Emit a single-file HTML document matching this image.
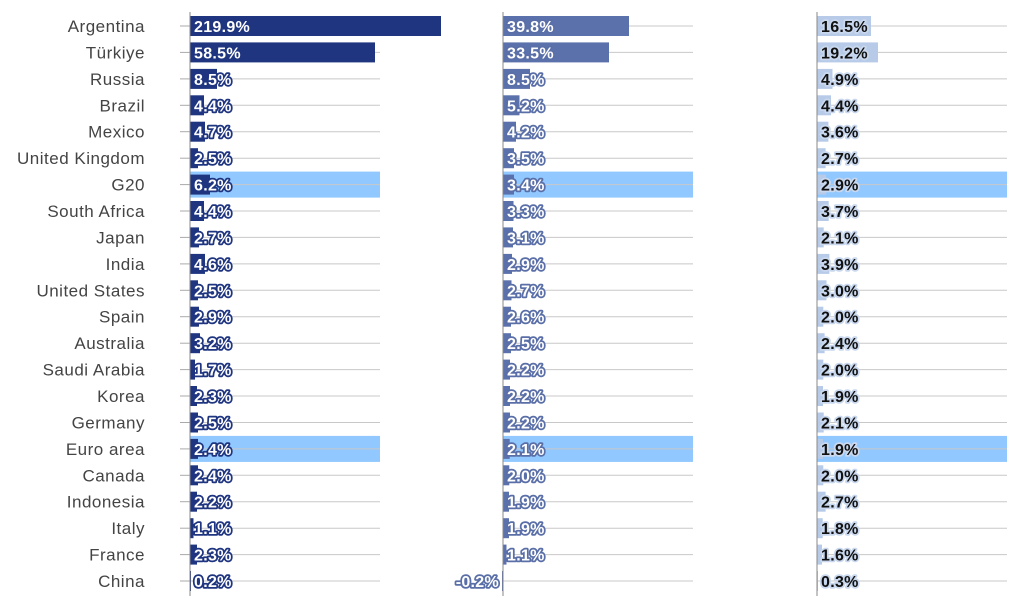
<!DOCTYPE html>
<html><head><meta charset="utf-8"><style>
body{margin:0;background:#fff}
svg{display:block;font-family:"Liberation Sans",sans-serif}
.c{font-size:17px;fill:#444;text-anchor:end;letter-spacing:0.5px}
.g{stroke:#c8c8c8;stroke-width:1}
.t{stroke:#aaa;stroke-width:1}
.v1,.v2,.v3{font-size:16px;font-weight:bold;paint-order:stroke;stroke-linejoin:round;letter-spacing:0.3px}
.v1{fill:#fff;stroke:#1f3580;stroke-width:3.5}
.v2{fill:#fff;stroke:#5a6fa8;stroke-width:3.5}
.v3{fill:#111;stroke:#c9d8ee;stroke-width:3.5}
.b1{fill:#1f3580}.b2{fill:#5b71ab}.b3{fill:#b7cbe8}
.h{fill:#90c8ff}
</style></head><body>
<svg width="1022" height="607" viewBox="0 0 1022 607">
<rect x="190" y="171.6" width="190" height="26" class="h"/><rect x="503" y="171.6" width="190" height="26" class="h"/><rect x="817" y="171.6" width="190" height="26" class="h"/>
<rect x="190" y="435.9" width="190" height="26" class="h"/><rect x="503" y="435.9" width="190" height="26" class="h"/><rect x="817" y="435.9" width="190" height="26" class="h"/>
<g id="rows">
<g transform="translate(0,26)"><line x1="180" x2="190" class="t"/><line x1="190" x2="380" class="g"/><line x1="503" x2="693" class="g"/><line x1="817" x2="1007" class="g"/><rect x="190" y="-10" width="251" height="20" class="b1"/><rect x="503" y="-10" width="126" height="20" class="b2"/><rect x="817" y="-10" width="54" height="20" class="b3"/><text x="145" y="6" class="c">Argentina</text><text x="194" y="6" class="v1">219.9%</text><text x="507" y="6" class="v2">39.8%</text><text x="821" y="6" class="v3">16.5%</text></g>
<g transform="translate(0,52.4)"><line x1="180" x2="190" class="t"/><line x1="190" x2="380" class="g"/><line x1="503" x2="693" class="g"/><line x1="817" x2="1007" class="g"/><rect x="190" y="-10" width="185" height="20" class="b1"/><rect x="503" y="-10" width="106" height="20" class="b2"/><rect x="817" y="-10" width="61" height="20" class="b3"/><text x="145" y="6" class="c">Türkiye</text><text x="194" y="6" class="v1">58.5%</text><text x="507" y="6" class="v2">33.5%</text><text x="821" y="6" class="v3">19.2%</text></g>
<g transform="translate(0,78.9)"><line x1="180" x2="190" class="t"/><line x1="190" x2="380" class="g"/><line x1="503" x2="693" class="g"/><line x1="817" x2="1007" class="g"/><rect x="190" y="-10" width="27" height="20" class="b1"/><rect x="503" y="-10" width="27" height="20" class="b2"/><rect x="817" y="-10" width="15.5" height="20" class="b3"/><text x="145" y="6" class="c">Russia</text><text x="194" y="6" class="v1">8.5%</text><text x="507" y="6" class="v2">8.5%</text><text x="821" y="6" class="v3">4.9%</text></g>
<g transform="translate(0,105.3)"><line x1="180" x2="190" class="t"/><line x1="190" x2="380" class="g"/><line x1="503" x2="693" class="g"/><line x1="817" x2="1007" class="g"/><rect x="190" y="-10" width="14" height="20" class="b1"/><rect x="503" y="-10" width="16.5" height="20" class="b2"/><rect x="817" y="-10" width="14" height="20" class="b3"/><text x="145" y="6" class="c">Brazil</text><text x="194" y="6" class="v1">4.4%</text><text x="507" y="6" class="v2">5.2%</text><text x="821" y="6" class="v3">4.4%</text></g>
<g transform="translate(0,131.7)"><line x1="180" x2="190" class="t"/><line x1="190" x2="380" class="g"/><line x1="503" x2="693" class="g"/><line x1="817" x2="1007" class="g"/><rect x="190" y="-10" width="15" height="20" class="b1"/><rect x="503" y="-10" width="13" height="20" class="b2"/><rect x="817" y="-10" width="11.4" height="20" class="b3"/><text x="145" y="6" class="c">Mexico</text><text x="194" y="6" class="v1">4.7%</text><text x="507" y="6" class="v2">4.2%</text><text x="821" y="6" class="v3">3.6%</text></g>
<g transform="translate(0,158.2)"><line x1="180" x2="190" class="t"/><line x1="190" x2="380" class="g"/><line x1="503" x2="693" class="g"/><line x1="817" x2="1007" class="g"/><rect x="190" y="-10" width="8" height="20" class="b1"/><rect x="503" y="-10" width="11" height="20" class="b2"/><rect x="817" y="-10" width="8.6" height="20" class="b3"/><text x="145" y="6" class="c">United Kingdom</text><text x="194" y="6" class="v1">2.5%</text><text x="507" y="6" class="v2">3.5%</text><text x="821" y="6" class="v3">2.7%</text></g>
<g transform="translate(0,184.6)"><line x1="180" x2="190" class="t"/><line x1="190" x2="380" class="g"/><line x1="503" x2="693" class="g"/><line x1="817" x2="1007" class="g"/><rect x="190" y="-10" width="20" height="20" class="b1"/><rect x="503" y="-10" width="11" height="20" class="b2"/><rect x="817" y="-10" width="9.2" height="20" class="b3"/><text x="145" y="6" class="c">G20</text><text x="194" y="6" class="v1">6.2%</text><text x="507" y="6" class="v2">3.4%</text><text x="821" y="6" class="v3">2.9%</text></g>
<g transform="translate(0,211)"><line x1="180" x2="190" class="t"/><line x1="190" x2="380" class="g"/><line x1="503" x2="693" class="g"/><line x1="817" x2="1007" class="g"/><rect x="190" y="-10" width="14" height="20" class="b1"/><rect x="503" y="-10" width="10.5" height="20" class="b2"/><rect x="817" y="-10" width="11.7" height="20" class="b3"/><text x="145" y="6" class="c">South Africa</text><text x="194" y="6" class="v1">4.4%</text><text x="507" y="6" class="v2">3.3%</text><text x="821" y="6" class="v3">3.7%</text></g>
<g transform="translate(0,237.4)"><line x1="180" x2="190" class="t"/><line x1="190" x2="380" class="g"/><line x1="503" x2="693" class="g"/><line x1="817" x2="1007" class="g"/><rect x="190" y="-10" width="9" height="20" class="b1"/><rect x="503" y="-10" width="10" height="20" class="b2"/><rect x="817" y="-10" width="6.7" height="20" class="b3"/><text x="145" y="6" class="c">Japan</text><text x="194" y="6" class="v1">2.7%</text><text x="507" y="6" class="v2">3.1%</text><text x="821" y="6" class="v3">2.1%</text></g>
<g transform="translate(0,263.9)"><line x1="180" x2="190" class="t"/><line x1="190" x2="380" class="g"/><line x1="503" x2="693" class="g"/><line x1="817" x2="1007" class="g"/><rect x="190" y="-10" width="15" height="20" class="b1"/><rect x="503" y="-10" width="9" height="20" class="b2"/><rect x="817" y="-10" width="12.4" height="20" class="b3"/><text x="145" y="6" class="c">India</text><text x="194" y="6" class="v1">4.6%</text><text x="507" y="6" class="v2">2.9%</text><text x="821" y="6" class="v3">3.9%</text></g>
<g transform="translate(0,290.3)"><line x1="180" x2="190" class="t"/><line x1="190" x2="380" class="g"/><line x1="503" x2="693" class="g"/><line x1="817" x2="1007" class="g"/><rect x="190" y="-10" width="8" height="20" class="b1"/><rect x="503" y="-10" width="8.5" height="20" class="b2"/><rect x="817" y="-10" width="9.5" height="20" class="b3"/><text x="145" y="6" class="c">United States</text><text x="194" y="6" class="v1">2.5%</text><text x="507" y="6" class="v2">2.7%</text><text x="821" y="6" class="v3">3.0%</text></g>
<g transform="translate(0,316.7)"><line x1="180" x2="190" class="t"/><line x1="190" x2="380" class="g"/><line x1="503" x2="693" class="g"/><line x1="817" x2="1007" class="g"/><rect x="190" y="-10" width="9" height="20" class="b1"/><rect x="503" y="-10" width="8" height="20" class="b2"/><rect x="817" y="-10" width="6.3" height="20" class="b3"/><text x="145" y="6" class="c">Spain</text><text x="194" y="6" class="v1">2.9%</text><text x="507" y="6" class="v2">2.6%</text><text x="821" y="6" class="v3">2.0%</text></g>
<g transform="translate(0,343.2)"><line x1="180" x2="190" class="t"/><line x1="190" x2="380" class="g"/><line x1="503" x2="693" class="g"/><line x1="817" x2="1007" class="g"/><rect x="190" y="-10" width="10" height="20" class="b1"/><rect x="503" y="-10" width="8" height="20" class="b2"/><rect x="817" y="-10" width="7.6" height="20" class="b3"/><text x="145" y="6" class="c">Australia</text><text x="194" y="6" class="v1">3.2%</text><text x="507" y="6" class="v2">2.5%</text><text x="821" y="6" class="v3">2.4%</text></g>
<g transform="translate(0,369.6)"><line x1="180" x2="190" class="t"/><line x1="190" x2="380" class="g"/><line x1="503" x2="693" class="g"/><line x1="817" x2="1007" class="g"/><rect x="190" y="-10" width="5" height="20" class="b1"/><rect x="503" y="-10" width="7" height="20" class="b2"/><rect x="817" y="-10" width="6.3" height="20" class="b3"/><text x="145" y="6" class="c">Saudi Arabia</text><text x="194" y="6" class="v1">1.7%</text><text x="507" y="6" class="v2">2.2%</text><text x="821" y="6" class="v3">2.0%</text></g>
<g transform="translate(0,396)"><line x1="180" x2="190" class="t"/><line x1="190" x2="380" class="g"/><line x1="503" x2="693" class="g"/><line x1="817" x2="1007" class="g"/><rect x="190" y="-10" width="7" height="20" class="b1"/><rect x="503" y="-10" width="7" height="20" class="b2"/><rect x="817" y="-10" width="6" height="20" class="b3"/><text x="145" y="6" class="c">Korea</text><text x="194" y="6" class="v1">2.3%</text><text x="507" y="6" class="v2">2.2%</text><text x="821" y="6" class="v3">1.9%</text></g>
<g transform="translate(0,422.5)"><line x1="180" x2="190" class="t"/><line x1="190" x2="380" class="g"/><line x1="503" x2="693" class="g"/><line x1="817" x2="1007" class="g"/><rect x="190" y="-10" width="8" height="20" class="b1"/><rect x="503" y="-10" width="7" height="20" class="b2"/><rect x="817" y="-10" width="6.7" height="20" class="b3"/><text x="145" y="6" class="c">Germany</text><text x="194" y="6" class="v1">2.5%</text><text x="507" y="6" class="v2">2.2%</text><text x="821" y="6" class="v3">2.1%</text></g>
<g transform="translate(0,448.9)"><line x1="180" x2="190" class="t"/><line x1="190" x2="380" class="g"/><line x1="503" x2="693" class="g"/><line x1="817" x2="1007" class="g"/><rect x="190" y="-10" width="8" height="20" class="b1"/><rect x="503" y="-10" width="6.7" height="20" class="b2"/><rect x="817" y="-10" width="6" height="20" class="b3"/><text x="145" y="6" class="c">Euro area</text><text x="194" y="6" class="v1">2.4%</text><text x="507" y="6" class="v2">2.1%</text><text x="821" y="6" class="v3">1.9%</text></g>
<g transform="translate(0,475.3)"><line x1="180" x2="190" class="t"/><line x1="190" x2="380" class="g"/><line x1="503" x2="693" class="g"/><line x1="817" x2="1007" class="g"/><rect x="190" y="-10" width="8" height="20" class="b1"/><rect x="503" y="-10" width="6.3" height="20" class="b2"/><rect x="817" y="-10" width="6.3" height="20" class="b3"/><text x="145" y="6" class="c">Canada</text><text x="194" y="6" class="v1">2.4%</text><text x="507" y="6" class="v2">2.0%</text><text x="821" y="6" class="v3">2.0%</text></g>
<g transform="translate(0,501.7)"><line x1="180" x2="190" class="t"/><line x1="190" x2="380" class="g"/><line x1="503" x2="693" class="g"/><line x1="817" x2="1007" class="g"/><rect x="190" y="-10" width="7" height="20" class="b1"/><rect x="503" y="-10" width="6" height="20" class="b2"/><rect x="817" y="-10" width="8.6" height="20" class="b3"/><text x="145" y="6" class="c">Indonesia</text><text x="194" y="6" class="v1">2.2%</text><text x="507" y="6" class="v2">1.9%</text><text x="821" y="6" class="v3">2.7%</text></g>
<g transform="translate(0,528.2)"><line x1="180" x2="190" class="t"/><line x1="190" x2="380" class="g"/><line x1="503" x2="693" class="g"/><line x1="817" x2="1007" class="g"/><rect x="190" y="-10" width="3.5" height="20" class="b1"/><rect x="503" y="-10" width="6" height="20" class="b2"/><rect x="817" y="-10" width="5.7" height="20" class="b3"/><text x="145" y="6" class="c">Italy</text><text x="194" y="6" class="v1">1.1%</text><text x="507" y="6" class="v2">1.9%</text><text x="821" y="6" class="v3">1.8%</text></g>
<g transform="translate(0,554.6)"><line x1="180" x2="190" class="t"/><line x1="190" x2="380" class="g"/><line x1="503" x2="693" class="g"/><line x1="817" x2="1007" class="g"/><rect x="190" y="-10" width="7" height="20" class="b1"/><rect x="503" y="-10" width="3.5" height="20" class="b2"/><rect x="817" y="-10" width="5" height="20" class="b3"/><text x="145" y="6" class="c">France</text><text x="194" y="6" class="v1">2.3%</text><text x="507" y="6" class="v2">1.1%</text><text x="821" y="6" class="v3">1.6%</text></g>
<g transform="translate(0,581)"><line x1="180" x2="190" class="t"/><line x1="190" x2="380" class="g"/><line x1="503" x2="693" class="g"/><line x1="817" x2="1007" class="g"/><rect x="190" y="-10" width="1" height="20" class="b1"/><rect x="502" y="-10" width="1" height="20" class="b2"/><rect x="817" y="-10" width="1" height="20" class="b3"/><text x="145" y="6" class="c">China</text><text x="194" y="6" class="v1">0.2%</text><text x="499" y="6" class="v2" text-anchor="end">-0.2%</text><text x="821" y="6" class="v3">0.3%</text></g>
</g>
<line x1="190" y1="12" x2="190" y2="596" stroke="#888" stroke-width="1"/>
<line x1="503" y1="12" x2="503" y2="596" stroke="#888" stroke-width="1"/>
<line x1="817" y1="12" x2="817" y2="596" stroke="#888" stroke-width="1"/>
</svg>
</body></html>
